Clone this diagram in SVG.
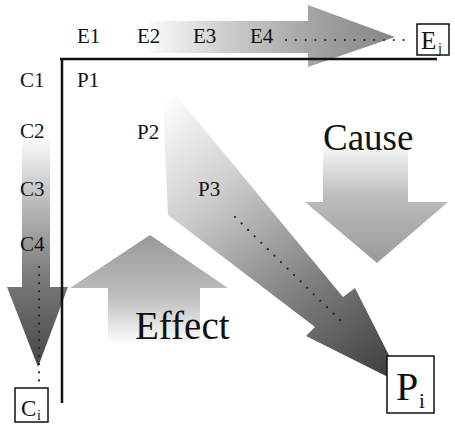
<svg xmlns="http://www.w3.org/2000/svg" width="455" height="429" viewBox="0 0 455 429" font-family="'Liberation Serif', 'DejaVu Serif', 'Times New Roman', serif">
<style>
text{font-family:"Liberation Serif","DejaVu Serif","Times New Roman",serif}
.lbl{font-size:21px;fill:#111}
.big{fill:#111}
.box{fill:#fff;stroke:#111;stroke-width:1.5}
.axis{stroke:#111;stroke-width:2.5;fill:none}
.dots{stroke:#222;stroke-width:2.2;stroke-linecap:round;fill:none}
</style>
<defs>
<linearGradient id="gTop" gradientUnits="userSpaceOnUse" x1="150" y1="0" x2="395" y2="0">
<stop offset="0" stop-color="#fafafa"/><stop offset="0.3" stop-color="#cfcfcf"/><stop offset="0.65" stop-color="#a5a5a5"/><stop offset="1" stop-color="#858585"/>
</linearGradient>
<linearGradient id="gLeft" gradientUnits="userSpaceOnUse" x1="0" y1="135" x2="0" y2="367">
<stop offset="0" stop-color="#ffffff"/><stop offset="0.25" stop-color="#c4c4c4"/><stop offset="0.6" stop-color="#7c7c7c"/><stop offset="1" stop-color="#454545"/>
</linearGradient>
<linearGradient id="gCause" gradientUnits="userSpaceOnUse" x1="0" y1="140" x2="0" y2="263">
<stop offset="0" stop-color="#ffffff"/><stop offset="0.45" stop-color="#bdbdbd"/><stop offset="1" stop-color="#9a9a9a"/>
</linearGradient>
<linearGradient id="gEffect" gradientUnits="userSpaceOnUse" x1="0" y1="345" x2="0" y2="235">
<stop offset="0" stop-color="#ffffff"/><stop offset="0.45" stop-color="#bdbdbd"/><stop offset="1" stop-color="#999999"/>
</linearGradient>
<linearGradient id="gDiag" gradientUnits="userSpaceOnUse" x1="168" y1="95" x2="395" y2="375">
<stop offset="0" stop-color="#ffffff"/><stop offset="0.3" stop-color="#cccccc"/><stop offset="0.65" stop-color="#808080"/><stop offset="1" stop-color="#3c3c3c"/>
</linearGradient>
</defs>
<rect width="455" height="429" fill="#fff"/>

<g id="arrow-e">
<polygon points="150,21 308,21 308,5 395,37 308,67 308,53 150,53" fill="url(#gTop)"/>
</g>
<g id="arrow-c">
<polygon points="22,135 50,135 50,287 68,287 38,367 7,287 22,287" fill="url(#gLeft)"/>
</g>
<g id="arrow-cause">
<polygon points="323,143 408,143 408,202 448,202 377,263 305,202 323,202" fill="url(#gCause)"/>
</g>
<g id="arrow-effect">
<polygon points="150,235 228,288 200,288 200,345 108,345 108,288 70,288" fill="url(#gEffect)"/>
</g>
<g id="arrow-p">
<polygon points="170,88 343,297 355,288 404,385 306,336 315,327 168,215 163,100" fill="url(#gDiag)"/>
</g>

<g id="connectors">
<path class="axis" d="M60,59 H437 M62,59 V403"/>
<path class="dots" d="M286,40 H404" stroke-dasharray="0 9.8"/>
<path class="dots" d="M39,267 V381" stroke-dasharray="0 8.1"/>
<path class="dots" d="M235,217 L341,321" stroke-dasharray="0 9.2"/>
</g>

<g id="labels-e">
<text class="lbl" x="77" y="43">E1</text>
<text class="lbl" x="137" y="43">E2</text>
<text class="lbl" x="193" y="43">E3</text>
<text class="lbl" x="250" y="43">E4</text>
</g>
<g id="labels-c">
<text class="lbl" x="20" y="87">C1</text>
<text class="lbl" x="20" y="138">C2</text>
<text class="lbl" x="20" y="196">C3</text>
<text class="lbl" x="20" y="251">C4</text>
</g>
<g id="labels-p">
<text class="lbl" x="77" y="87">P1</text>
<text class="lbl" x="137" y="139">P2</text>
<text class="lbl" x="198" y="196">P3</text>
</g>
<g id="node-ej">
<rect class="box" x="417" y="24" width="32" height="31"/>
<text class="big" x="421" y="49" font-size="25">E</text>
<text class="big" x="438" y="53" font-size="14">j</text>
</g>
<g id="node-ci">
<rect class="box" x="15" y="388" width="33" height="34"/>
<text class="big" x="21" y="416" font-size="23">C</text>
<text class="big" x="37" y="420" font-size="14">i</text>
</g>
<g id="node-pi">
<rect class="box" x="387" y="356" width="47" height="57"/>
<text class="big" x="396" y="400" font-size="40">P</text>
<text class="big" x="419" y="408" font-size="21">i</text>
</g>
<g id="label-cause">
<text class="big" x="323" y="150" font-size="37">Cause</text>
</g>
<g id="label-effect">
<text class="big" x="135" y="339" font-size="39">Effect</text>
</g>
</svg>
